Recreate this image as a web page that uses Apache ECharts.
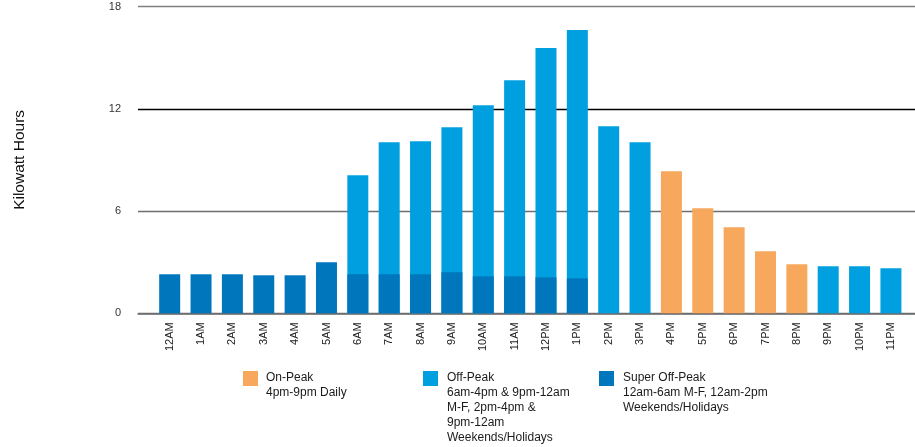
<!DOCTYPE html>
<html>
<head>
<meta charset="utf-8">
<script src="https://cdn.jsdelivr.net/npm/echarts@6/dist/echarts.min.js"></script>
<style>
html,body{margin:0;padding:0;background:#fff;}
#chart{width:915px;height:447px;}
</style>
</head>
<body>
<div id="chart"></div>
<script>
var hours = ['12AM','1AM','2AM','3AM','4AM','5AM','6AM','7AM','8AM','9AM','10AM','11AM','12PM','1PM','2PM','3PM','4PM','5PM','6PM','7PM','8PM','9PM','10PM','11PM'];
// bar totals (top of the light-blue bar) for off-peak hours
var offPeak = [null,null,null,null,null,null,8.1,10.04,10.1,10.92,12.21,13.68,15.56,16.62,10.98,10.04,null,null,null,null,null,2.76,2.76,2.64];
var onPeak = [null,null,null,null,null,null,null,null,null,null,null,null,null,null,null,null,8.34,6.17,5.05,3.64,2.88,null,null,null];
var superOffPeak = [2.29,2.29,2.29,2.23,2.23,3.0,2.29,2.29,2.29,2.41,2.17,2.17,2.11,2.05,null,null,null,null,null,null,null,null,null,null];
var yTicks = [0,6,12,18];

var C_ON = '#F7A85D', C_OFF = '#00A0E0', C_SUPER = '#0077BC';
var chart = echarts.init(document.getElementById('chart'));
var TOP = 6.5, BOTTOM = 447 - 313.3;
var FONT = 'Liberation Sans, Arial, sans-serif';
chart.setOption({
  animation: false,
  textStyle: {fontFamily: FONT},
  grid: [
    {left: 138, right: 0, top: TOP, bottom: BOTTOM},
    {left: 154, right: 8.4, top: TOP, bottom: BOTTOM}
  ],
  xAxis: [
    {gridIndex: 0, type: 'value', min: 0, max: 1, show: true,
     axisLine: {show: true, onZero: true, lineStyle: {color: '#6e6e6e', width: 1.5}},
     axisTick: {show: false}, axisLabel: {show: false}, splitLine: {show: false}},
    {gridIndex: 1, type: 'category', data: hours, boundaryGap: true,
     axisLine: {show: false}, axisTick: {show: false},
     axisLabel: {rotate: 90, fontSize: 11, color: '#222', margin: 9, interval: 0}}
  ],
  yAxis: [
    {gridIndex: 0, type: 'value', min: 0, max: 18, interval: 6,
     axisLine: {show: false}, axisTick: {show: false},
     axisLabel: {fontSize: 11, color: '#333', margin: 17, padding: [5, 0, 0, 0],
       formatter: function(v){ return yTicks.indexOf(v) >= 0 ? String(v) : ''; }},
     splitLine: {show: true, lineStyle: {color: ['#6e6e6e','#6e6e6e','#000','#808080'], width: 1.3}},
     name: 'Kilowatt Hours', nameLocation: 'middle', nameGap: 110, nameRotate: 90,
     nameTextStyle: {fontSize: 15.5, color: '#111'}},
    {gridIndex: 1, type: 'value', min: 0, max: 18, interval: 6, show: false}
  ],
  series: [
    {name: 'Off-Peak', type: 'bar', xAxisIndex: 1, yAxisIndex: 1, data: offPeak, barWidth: 21, barGap: '-100%', itemStyle: {color: C_OFF}},
    {name: 'On-Peak', type: 'bar', xAxisIndex: 1, yAxisIndex: 1, data: onPeak, barWidth: 21, barGap: '-100%', itemStyle: {color: C_ON}},
    {name: 'Super Off-Peak', type: 'bar', xAxisIndex: 1, yAxisIndex: 1, data: superOffPeak, barWidth: 21, barGap: '-100%', itemStyle: {color: C_SUPER}}
  ],
  graphic: [
    {type: 'rect', shape: {x: 243, y: 371, width: 15, height: 15}, style: {fill: C_ON}},
    {type: 'text', x: 266, y: 370, style: {text: 'On-Peak\n4pm-9pm Daily', fontSize: 12, lineHeight: 15, fill: '#1a1a1a', fontFamily: FONT}},
    {type: 'rect', shape: {x: 423, y: 371, width: 15, height: 15}, style: {fill: C_OFF}},
    {type: 'text', x: 447, y: 370, style: {text: 'Off-Peak\n6am-4pm & 9pm-12am\nM-F, 2pm-4pm &\n9pm-12am\nWeekends/Holidays', fontSize: 12, lineHeight: 15, fill: '#1a1a1a', fontFamily: FONT}},
    {type: 'rect', shape: {x: 599, y: 371, width: 15, height: 15}, style: {fill: C_SUPER}},
    {type: 'text', x: 623, y: 370, style: {text: 'Super Off-Peak\n12am-6am M-F, 12am-2pm\nWeekends/Holidays', fontSize: 12, lineHeight: 15, fill: '#1a1a1a', fontFamily: FONT}}
  ]
});
</script>
</body>
</html>
